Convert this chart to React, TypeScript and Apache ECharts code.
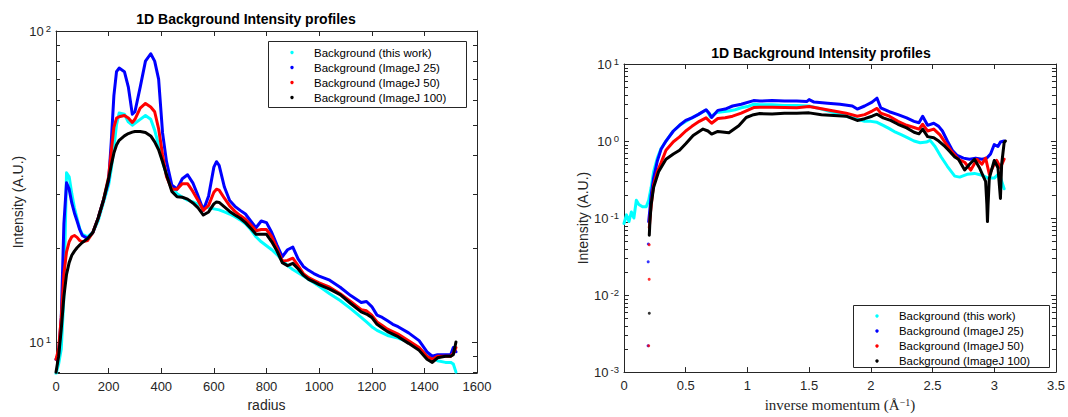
import React, { useEffect, useRef } from "react";
import * as echarts from "echarts";

// ---------- Left chart data (radius vs intensity) ----------
const radius = [
  0, 10, 20, 30, 40, 50, 60, 70, 80, 90, 100, 120, 140, 160, 180, 200, 210, 220, 230, 240,
  260, 275, 290, 300, 320, 340, 360, 375, 390, 405, 420, 440, 460, 480, 500, 520, 540, 560,
  580, 600, 610, 620, 640, 660, 680, 700, 720, 740, 760, 780, 800, 820, 840, 860, 880, 900,
  920, 940, 960, 980, 1000, 1040, 1080, 1120, 1160, 1180, 1200, 1220, 1240, 1260, 1280, 1300,
  1340, 1380, 1410, 1430, 1450, 1480, 1500, 1510, 1520,
];
const leftThisWork = [
  7.9, 8.5, 9.5, 14, 35, 34, 30, 27, 25, 23.2, 22.2, 21.8, 22.5, 24.5, 28, 32, 36, 42, 50, 54.5,
  54, 51, 49.8, 50.5, 52, 53.5, 52, 48, 43, 38, 34.5, 31.5, 30, 29.2, 28.6, 28.2, 27.7, 27.3,
  27, 26.8, 26.7, 26.6, 26.2, 25.8, 25.3, 24.7, 24, 23, 21.8, 21, 20.4, 19.8, 19.1, 18.3, 17.6, 17.1,
  16.7, 16.3, 15.9, 15.5, 15.1, 14.3, 13.6, 12.8, 12.0, 11.6, 11.2, 10.9, 10.7, 10.5, 10.4, 10.3,
  10.0, 9.5, 9.1, 8.9, 8.7, 8.6, 8.6, 8.5, 8.0,
];
const leftImageJ25 = [
  8.8, 9.2, 12, 24, 32.5, 31, 28, 26, 24.5, 23, 22, 21.5, 22.5, 25, 28.5, 33, 44, 62, 74, 76,
  74, 66, 54, 55, 66, 80, 84.5, 80, 70, 47, 38, 32, 31, 33.5, 34.5, 32.5, 29.5, 26.5,
  29.5, 36.5, 38, 37, 31.5, 28.5, 27.3, 26.5, 25.8, 24.5, 23.3, 24.5, 24.2, 22.5, 20.5, 18.8, 19.8, 20.2,
  18.5, 17.5, 17, 16.6, 16.3, 15.8, 15, 14.1, 13.4, 13.5, 13.0, 12.2, 12.0, 11.7, 11.4, 11.2,
  10.7, 10.1, 9.3, 9.0, 9.1, 9.1, 9.1, 9.6, 9.3,
];
const leftImageJ50 = [
  8.8, 9.5, 12, 16.5, 19.5, 21, 21.8, 22, 21.7, 21.2, 21, 21.2, 22.5, 25, 28.5, 34, 41, 49, 52.5, 53,
  53.5, 52.5, 50.8, 52, 56.5, 58.5, 57, 55, 48.5, 40, 34, 31, 31, 32.3, 32.3, 30.5, 28.5, 26.5,
  27.5, 30.3, 31, 30.8, 29, 27.4, 26.3, 25.5, 24.8, 23.8, 22.8, 23, 23, 21.8, 20, 18.2, 18.3, 18.6,
  17.6, 16.6, 16.1, 15.8, 15.5, 15.0, 14.3, 13.5, 12.7, 12.6, 12.2, 11.6, 11.3, 11.0, 10.8, 10.6,
  10.1, 9.6, 9.0, 8.8, 9.0, 9.0, 9.0, 9.2, 9.6,
];
const leftImageJ100 = [
  8.0, 9.0, 11, 14, 16.5, 18, 19, 19.6, 20.1, 20.5, 20.9, 21.5, 22.5, 25, 28.5, 33.5, 37, 40.5, 43, 44.5,
  46, 46.8, 47.3, 47.5, 47.5, 47.2, 46, 44, 41.5, 38, 34.5, 30.5, 29.3, 29.2, 28.8, 28, 27, 25.6,
  26.2, 27.8, 28.2, 28.1, 27.2, 26.3, 25.6, 25, 24.2, 23.2, 22.2, 22.2, 22.2, 21, 19.6, 18, 17.6, 17.9,
  17.2, 16.4, 15.9, 15.6, 15.3, 14.8, 14.2, 13.3, 12.5, 12.3, 12.0, 11.4, 11.1, 10.8, 10.6, 10.4,
  9.9, 9.4, 8.8, 8.6, 8.9, 9.0, 9.0, 9.1, 10.0,
];
const leftXTicks = { min: 0, max: 1600, step: 200 };
const leftYRange = { min: 7.95, max: 100 };
const leftMinorTicks = [8, 9, 20, 30, 40, 50, 60, 70, 80, 90];

// ---------- Right chart data (inverse momentum vs intensity) ----------
const rightThisWork: [number, number][] = [
  [0.0, 0.085], [0.02, 0.11], [0.04, 0.09], [0.06, 0.12], [0.08, 0.1], [0.1, 0.17], [0.12, 0.15],
  [0.15, 0.14], [0.18, 0.14], [0.2, 0.17], [0.22, 0.25], [0.24, 0.4], [0.27, 0.6], [0.3, 0.8],
  [0.35, 1.05], [0.4, 1.35], [0.45, 1.6], [0.5, 1.8], [0.55, 2.0], [0.6, 2.2], [0.65, 2.45],
  [0.67, 2.5], [0.7, 2.05], [0.75, 2.35], [0.8, 2.4], [0.85, 2.45], [0.9, 2.55], [0.95, 2.7],
  [1.0, 2.8], [1.05, 3.0], [1.1, 2.95], [1.2, 2.95], [1.3, 2.9], [1.4, 2.9], [1.5, 2.85],
  [1.6, 2.6], [1.7, 2.35], [1.8, 2.1], [1.85, 2.0], [1.9, 1.9], [1.95, 1.8], [2.0, 1.8],
  [2.05, 1.75], [2.1, 1.6], [2.15, 1.45], [2.2, 1.3], [2.25, 1.2], [2.3, 1.1], [2.35, 1.0],
  [2.4, 0.95], [2.45, 0.97], [2.48, 1.02], [2.52, 0.85], [2.57, 0.62], [2.62, 0.47], [2.68, 0.35],
  [2.72, 0.34], [2.78, 0.37], [2.84, 0.38], [2.9, 0.36], [2.95, 0.33], [3.0, 0.33], [3.04, 0.38],
  [3.06, 0.3], [3.08, 0.24],
];
const rightImageJ25Sparse: [number, number][] = [
  [0.195, 0.0022], [0.196, 0.027], [0.197, 0.046],
];
const rightImageJ25: [number, number][] = [
  [0.2, 0.09], [0.21, 0.13], [0.22, 0.2], [0.24, 0.33], [0.27, 0.55], [0.3, 0.78], [0.34, 1.0],
  [0.4, 1.35], [0.45, 1.6], [0.5, 1.85], [0.55, 2.0], [0.6, 2.2], [0.665, 2.55], [0.69, 2.3],
  [0.71, 2.02], [0.76, 2.5], [0.82, 2.6], [0.88, 2.85], [0.95, 3.0], [1.05, 3.35], [1.1, 3.3],
  [1.2, 3.35], [1.3, 3.3], [1.4, 3.3], [1.48, 3.25], [1.5, 3.45], [1.54, 3.2], [1.65, 3.1],
  [1.75, 3.0], [1.85, 2.85], [1.89, 2.6], [1.95, 2.85], [2.01, 3.2], [2.05, 3.6], [2.08, 2.7],
  [2.15, 2.4], [2.22, 2.2], [2.29, 2.0], [2.35, 1.8], [2.39, 1.73], [2.42, 2.1], [2.46, 1.6],
  [2.51, 1.7], [2.55, 1.55], [2.58, 1.35], [2.62, 1.0], [2.66, 0.76], [2.7, 0.65], [2.75, 0.6],
  [2.8, 0.58], [2.85, 0.6], [2.9, 0.58], [2.94, 0.6], [2.97, 0.68], [3.0, 0.9], [3.03, 0.85],
  [3.05, 0.97], [3.08, 1.0],
];
const rightImageJ50Sparse: [number, number][] = [
  [0.2, 0.0022], [0.204, 0.016], [0.204, 0.045],
];
const rightImageJ50: [number, number][] = [
  [0.205, 0.075], [0.215, 0.12], [0.23, 0.2], [0.24, 0.27], [0.27, 0.4], [0.3, 0.52], [0.34, 0.76],
  [0.4, 0.98], [0.45, 1.13], [0.5, 1.35], [0.55, 1.55], [0.61, 1.8], [0.665, 2.0], [0.71, 1.7],
  [0.76, 1.96], [0.82, 2.0], [0.88, 2.1], [0.95, 2.3], [1.05, 2.72], [1.1, 2.75], [1.2, 2.75],
  [1.3, 2.72], [1.4, 2.7], [1.5, 2.8], [1.6, 2.62], [1.7, 2.45], [1.8, 2.3], [1.89, 2.1],
  [1.95, 2.2], [2.01, 2.45], [2.05, 2.65], [2.08, 2.3], [2.15, 2.1], [2.22, 1.8], [2.29, 1.6],
  [2.35, 1.5], [2.39, 1.43], [2.42, 1.65], [2.46, 1.35], [2.51, 1.43], [2.56, 1.2], [2.6, 0.97],
  [2.65, 0.75], [2.71, 0.58], [2.76, 0.53], [2.81, 0.42], [2.86, 0.58], [2.9, 0.5], [2.93, 0.6],
  [2.96, 0.37], [3.0, 0.5], [3.02, 0.56], [3.05, 0.45], [3.08, 0.58],
];
const rightImageJ100Sparse: [number, number][] = [[0.205, 0.0058]];
const rightImageJ100: [number, number][] = [
  [0.205, 0.06], [0.21, 0.09], [0.22, 0.15], [0.24, 0.25], [0.28, 0.4], [0.34, 0.58], [0.4, 0.68],
  [0.45, 0.76], [0.5, 0.92], [0.56, 1.18], [0.6, 1.3], [0.64, 1.43], [0.68, 1.35], [0.71, 1.23],
  [0.76, 1.33], [0.85, 1.28], [0.93, 1.58], [0.99, 2.02], [1.05, 2.2], [1.1, 2.27], [1.2, 2.25],
  [1.3, 2.3], [1.4, 2.3], [1.5, 2.32], [1.6, 2.2], [1.7, 2.15], [1.8, 2.1], [1.89, 1.85],
  [1.95, 1.95], [2.01, 2.1], [2.05, 2.23], [2.1, 2.0], [2.16, 1.85], [2.22, 1.65], [2.29, 1.48],
  [2.35, 1.3], [2.39, 1.24], [2.42, 1.43], [2.46, 1.14], [2.51, 1.1], [2.55, 1.0], [2.6, 0.85],
  [2.63, 0.76], [2.68, 0.62], [2.71, 0.58], [2.76, 0.42], [2.8, 0.5], [2.84, 0.58], [2.88, 0.45],
  [2.91, 0.35], [2.93, 0.3], [2.94, 0.15], [2.945, 0.09], [2.95, 0.15], [2.96, 0.33], [3.0, 0.56],
  [3.03, 0.45], [3.05, 0.18], [3.06, 0.5], [3.08, 0.95], [3.09, 1.0],
];
const rightXTicks = { min: 0, max: 3.5, step: 0.5 };
const rightYRange = { min: 0.001, max: 10 };
const rightMinorTicks: number[] = [];
[0.001, 0.01, 0.1, 1].forEach((d) => {
  for (let k = 2; k <= 9; k++) rightMinorTicks.push(d * k);
});

const seriesNames = [
  "Background (this work)",
  "Background (ImageJ 25)",
  "Background (ImageJ 50)",
  "Background (ImageJ 100)",
];
const seriesColors = ["#00FFFF", "#0000FF", "#FF0000", "#000000"];
const chartTitle = "1D Background Intensity profiles";

const FONT = '"Liberation Sans", Arial, Helvetica, sans-serif';
const SERIF = '"Liberation Serif", "DejaVu Serif", serif';
const AX = "#262626";

function logLabel(v: number) {
  const l = Math.log10(v);
  const e = Math.round(l);
  if (Math.abs(l - e) > 1e-6) return "";
  return `{b|10}{s|${e}}`;
}

const logRich = {
  b: { fontSize: 13, color: AX, fontFamily: FONT, lineHeight: 16 },
  s: { fontSize: 9.5, color: AX, fontFamily: FONT, verticalAlign: "top", lineHeight: 10, padding: [0, 0, 0, 2] },
};

function xAxisPair(gridIndex: number, t: { min: number; max: number; step: number }, name: string, nameGap: number, nameStyle: any) {
  const common = {
    gridIndex,
    type: "value",
    min: t.min,
    max: t.max,
    interval: t.step,
    splitLine: { show: false },
    axisLine: { show: true, onZero: false, lineStyle: { color: AX, width: 1 } },
    axisTick: { show: true, inside: true, length: 5, lineStyle: { color: AX } },
  };
  return [
    {
      ...common,
      position: "bottom",
      axisLabel: {
        color: AX,
        fontSize: 13,
        fontFamily: FONT,
        margin: 7,
        formatter: (v: number) => String(v),
      },
      name,
      nameLocation: "middle",
      nameGap,
      nameTextStyle: nameStyle,
    },
    { ...common, position: "top", axisLabel: { show: false } },
  ];
}

function yAxisPair(gridIndex: number, r: { min: number; max: number }, nameGap: number) {
  const common = {
    gridIndex,
    type: "log",
    logBase: 10,
    min: r.min,
    max: r.max,
    splitLine: { show: false },
    minorTick: { show: false },
    axisLine: { show: true, onZero: false, lineStyle: { color: AX, width: 1 } },
    axisTick: { show: true, inside: true, length: 5, lineStyle: { color: AX } },
  };
  return [
    {
      ...common,
      position: "left",
      axisLabel: {
        color: AX,
        fontFamily: FONT,
        margin: 5,
        formatter: logLabel,
        rich: logRich,
        showMinLabel: true,
        showMaxLabel: true,
      },
      name: "Intensity (A.U.)",
      nameLocation: "middle",
      nameGap,
      nameTextStyle: { color: AX, fontSize: 14, fontFamily: FONT },
    },
    { ...common, position: "right", axisLabel: { show: false } },
  ];
}

function lineSeries(name: string, color: string, data: any[], xi: number, yi: number) {
  return {
    name,
    type: "line",
    xAxisIndex: xi,
    yAxisIndex: yi,
    data,
    showSymbol: false,
    symbol: "circle",
    color,
    lineStyle: { color, width: 3, join: "round", cap: "round" },
    itemStyle: { color },
    silent: true,
  };
}

function scatterSeries(name: string, color: string, data: any[], xi: number, yi: number) {
  return {
    name,
    type: "scatter",
    xAxisIndex: xi,
    yAxisIndex: yi,
    data,
    symbol: "circle",
    symbolSize: 3,
    itemStyle: { color },
    silent: true,
  };
}

// MATLAB-style boxed legend built from graphic elements
function legendGraphic(box: { x: number; y: number; w: number; h: number }, rowY: number[], markerX: number, textX: number, fontSize: number) {
  const children: any[] = [
    {
      type: "rect",
      shape: { x: box.x + 0.5, y: box.y + 0.5, width: box.w, height: box.h },
      style: { fill: "#fff", stroke: AX, lineWidth: 1 },
    },
  ];
  seriesNames.forEach((n, i) => {
    children.push({
      type: "circle",
      shape: { cx: markerX, cy: rowY[i], r: 1.7 },
      style: { fill: seriesColors[i] },
    });
    children.push({
      type: "text",
      x: textX,
      y: rowY[i],
      style: {
        text: n,
        fontSize,
        fontFamily: FONT,
        fill: "#000",
        align: "left",
        verticalAlign: "middle",
        textAlign: "left",
        textVerticalAlign: "middle",
      },
    });
  });
  return { type: "group", z: 100, silent: true, children };
}

export default function App() {
  const ref = useRef<HTMLDivElement>(null);

  useEffect(() => {
    if (!ref.current) return;
    const chart = echarts.init(ref.current, null, { renderer: "svg" });

    const leftData = [leftThisWork, leftImageJ25, leftImageJ50, leftImageJ100].map((vals) =>
      radius.map((r, i) => [r, vals[i]])
    );

    const option: any = {
      animation: false,
      backgroundColor: "#ffffff",
      grid: [
        { left: 56, top: 31, width: 421, height: 342, containLabel: false },
        { left: 624, top: 64, width: 435, height: 313, containLabel: false },
      ],
      xAxis: [
        ...xAxisPair(0, leftXTicks, "radius", 24, { color: AX, fontSize: 14, fontFamily: FONT }),
        ...xAxisPair(1, rightXTicks, "inverse momentum (Å{s|−1})", 22, {
          color: AX,
          fontSize: 15,
          fontFamily: SERIF,
          rich: { s: { fontSize: 10, fontFamily: SERIF, color: AX, verticalAlign: "top", lineHeight: 10 } },
        }),
      ],
      yAxis: [...yAxisPair(0, leftYRange, 30), ...yAxisPair(1, rightYRange, 34)],
      series: [
        ...leftData.map((d, i) => lineSeries(seriesNames[i], seriesColors[i], d, 0, 0)),
        lineSeries(seriesNames[0], seriesColors[0], rightThisWork, 2, 2),
        scatterSeries(seriesNames[1], seriesColors[1], rightImageJ25Sparse, 2, 2),
        lineSeries(seriesNames[1], seriesColors[1], rightImageJ25, 2, 2),
        scatterSeries(seriesNames[2], seriesColors[2], rightImageJ50Sparse, 2, 2),
        lineSeries(seriesNames[2], seriesColors[2], rightImageJ50, 2, 2),
        scatterSeries(seriesNames[3], seriesColors[3], rightImageJ100Sparse, 2, 2),
        lineSeries(seriesNames[3], seriesColors[3], rightImageJ100, 2, 2),
      ],
    };
    chart.setOption(option);

    // minor log ticks (MATLAB style), titles and legends
    const graphics: any[] = [];
    const addMinor = (values: number[], yAxisIndex: number, xAxisIndex: number, xMin: number, xMax: number) => {
      const xl = chart.convertToPixel({ xAxisIndex }, xMin) as number;
      const xr = chart.convertToPixel({ xAxisIndex }, xMax) as number;
      values.forEach((v) => {
        const y = Math.round(chart.convertToPixel({ yAxisIndex }, v) as number) + 0.5;
        graphics.push({
          type: "line",
          silent: true,
          shape: { x1: xl, y1: y, x2: xl + 4, y2: y },
          style: { stroke: AX, lineWidth: 1 },
        });
        graphics.push({
          type: "line",
          silent: true,
          shape: { x1: xr - 4, y1: y, x2: xr, y2: y },
          style: { stroke: AX, lineWidth: 1 },
        });
      });
    };
    addMinor(leftMinorTicks, 0, 0, leftXTicks.min, leftXTicks.max);
    addMinor(rightMinorTicks, 2, 2, rightXTicks.min, rightXTicks.max);

    const titleStyle = {
      text: chartTitle,
      fontSize: 14,
      fontWeight: "bold",
      fontFamily: FONT,
      fill: "#000",
      align: "center",
      verticalAlign: "middle",
      textAlign: "center",
      textVerticalAlign: "middle",
    };
    graphics.push({ type: "text", x: 246, y: 19, silent: true, style: { ...titleStyle } });
    graphics.push({ type: "text", x: 821, y: 53, silent: true, style: { ...titleStyle } });

    graphics.push(legendGraphic({ x: 268, y: 41, w: 198, h: 66 }, [52.5, 67.5, 82.5, 97.5], 292, 314, 11.5));
    graphics.push(legendGraphic({ x: 853, y: 305, w: 196, h: 62 }, [316, 331, 346, 361], 877, 899, 11.4));

    chart.setOption({ graphic: graphics });

    return () => {
      chart.dispose();
    };
  }, []);

  return (
    <div
      ref={ref}
      style={{ position: "fixed", left: 0, top: 0, width: 1068, height: 417, background: "#fff" }}
    />
  );
}
